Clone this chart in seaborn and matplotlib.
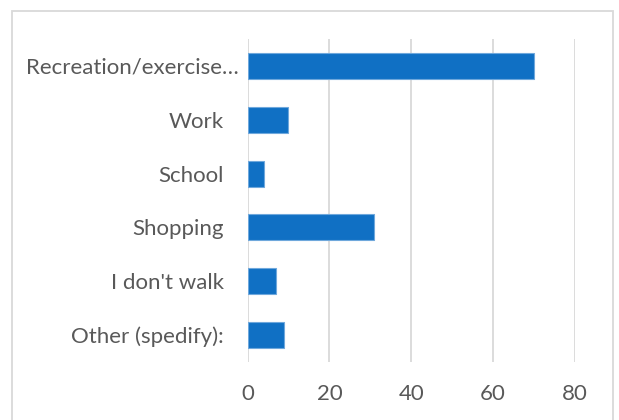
import matplotlib
matplotlib.use("Agg")
import matplotlib.pyplot as plt
import matplotlib.transforms as mtransforms
from matplotlib.patches import Rectangle
import seaborn as sns
import pandas as pd

categories = ["Recreation/exercise…", "Work", "School", "Shopping",
              "I don't walk", "Other (spedify):"]
counts = [70, 10, 4, 31, 7, 9]
x_ticks = [0, 20, 40, 60, 80]

sns.set_style("white")
plt.rcParams["font.family"] = ["Lato", "DejaVu Sans"]

TEXT = "#595959"
GRID = "#d9d9d9"
BAR = "#1070c4"

df = pd.DataFrame({"reason": categories, "count": counts})

fig = plt.figure(figsize=(6.19, 4.20), dpi=100)
ax = fig.add_axes([247.5 / 619, 1 - 362 / 420, (575 - 247.5) / 619, (362 - 39) / 420])

sns.barplot(data=df, x="count", y="reason", order=categories, color=BAR,
            width=0.48, saturation=1, edgecolor="#6fa8dc", linewidth=0.8, ax=ax)

ax.set_xlim(0, 80)
ax.set_xticks(x_ticks)
ax.set_xlabel("")
ax.set_ylabel("")
ax.grid(axis="x", color=GRID, linewidth=1.3)
ax.set_axisbelow(True)
for s in ax.spines.values():
    s.set_visible(False)
ax.tick_params(axis="x", length=0, pad=16, labelsize=16, labelcolor=TEXT)
ax.tick_params(axis="y", length=0, pad=17, labelsize=16, labelcolor=TEXT)

# the truncated first label spills past the label column toward the bars
first = ax.get_yticklabels()[0]
first.set_transform(first.get_transform() +
                    mtransforms.ScaledTranslation(15 / 100, 0, fig.dpi_scale_trans))

# chart-area frame
fig.patches.append(Rectangle((12 / 619, -2 / 420), (613 - 12) / 619, (420 - 11 + 2) / 420,
                             transform=fig.transFigure, fill=False,
                             edgecolor=GRID, linewidth=1.3))

fig.savefig("out.png", dpi=100)
